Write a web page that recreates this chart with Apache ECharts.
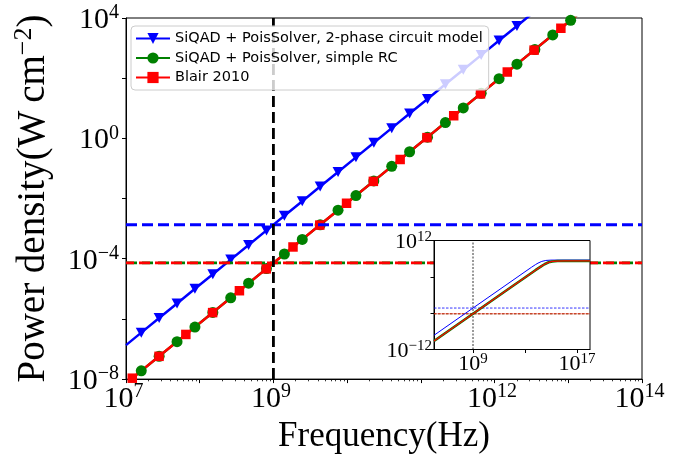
<!DOCTYPE html>
<html><head><meta charset="utf-8">
<script src="https://cdn.jsdelivr.net/npm/echarts@6/dist/echarts.min.js"></script>
<style>html,body{margin:0;padding:0;background:#fff}#c{width:683px;height:459px}</style>
</head><body><div id="c"></div>
<script>
// ---------- data ----------
const seriesNames = ['SiQAD + PoisSolver, 2-phase circuit model', 'SiQAD + PoisSolver, simple RC', 'Blair 2010'];

// marker points, main plot
const blueFreq = [1.611e7, 2.817e7, 4.925e7, 8.612e7, 1.506e8, 2.633e8, 4.604e8, 8.05e8, 1.408e9, 2.461e9, 4.305e9, 7.527e9,
  1.316e10, 2.302e10, 4.025e10, 7.038e10, 1.231e11, 2.152e11, 3.763e11, 6.58e11, 1.151e12, 2.012e12];
const bluePower = [3.50e-7, 1.069e-6, 3.27e-6, 1.0e-5, 3.06e-5, 9.35e-5, 2.858e-4, 8.75e-4, 2.673e-3, 8.18e-3, 2.50e-2, 7.64e-2,
  0.2339, 0.7145, 2.188, 6.68, 20.42, 62.5, 191, 584.8, 1786, 5458];
const blueLineEnds = [[1e7, 1.349e-7], [3.98e12, 2.138e4]];

const greenFreq = [1.611e7, 2.817e7, 4.925e7, 8.612e7, 1.506e8, 2.633e8, 4.604e8, 8.05e8, 1.408e9, 2.461e9, 4.305e9, 7.527e9,
  1.316e10, 2.302e10, 4.025e10, 7.038e10, 1.231e11, 2.152e11, 3.763e11, 6.58e11, 1.151e12, 2.012e12, 3.519e12, 6.153e12, 1.076e13];
const greenPower = [1.879e-8, 5.74e-8, 1.758e-7, 5.37e-7, 1.644e-6, 5.02e-6, 1.535e-5, 4.70e-5, 1.436e-4, 4.395e-4, 1.343e-3, 4.10e-3,
  1.256e-2, 3.837e-2, 0.1175, 0.3589, 1.096, 3.357, 10.26, 31.4, 95.9, 293.1, 897.4, 2742, 8395];
const greenLineEnds = [[7.943e6, 4.571e-9], [1.995e13, 2.884e4]];

const redFreq = [1.216e7, 2.808e7, 6.484e7, 1.497e8, 3.457e8, 7.98e8, 1.843e9, 4.255e9, 9.82e9, 2.268e10, 5.236e10,
  1.209e11, 2.791e11, 6.444e11, 1.488e12, 3.436e12, 7.933e12];
const redPower = [1.072e-8, 5.71e-8, 3.048e-7, 1.622e-6, 8.65e-6, 4.61e-5, 2.46e-4, 1.312e-3, 6.98e-3, 3.724e-2, 0.1986,
  1.059, 5.649, 30.06, 160.3, 855.1, 4560];
const redLineEnds = [[7.943e6, 4.571e-9], [1.995e13, 2.884e4]];

// reference levels
const blueLevel = 1.349e-3;
const redLevel = 7.244e-5;
const refFreq = 1e9;

// inset curves
const insetBlueFreq = [1e6, 1e9, 1e12, 1e13, 3.162e13, 6.31e13, 1e14, 1.95e14, 3.98e14, 1e15, 1e16, 1e18];
const insetBluePower = [1.349e-9, 1.349e-3, 1318, 1.318e5, 1.288e6, 4.786e6, 1.047e7, 2.512e7, 4.074e7, 4.786e7, 5.012e7, 5.012e7];
const insetRedFreq = [1e6, 1e9, 1e12, 1e13, 6.31e13, 2.0e14, 3.16e14, 6.61e14, 1.26e15, 3.16e15, 1e16, 1e18];
const insetRedPower = [7.244e-11, 7.244e-5, 72.44, 7244, 2.884e5, 2.63e6, 5.888e6, 1.585e7, 2.455e7, 3.02e7, 3.162e7, 3.162e7];

// ticks
const mainXLabelExp = [7, 9, 12, 14];
const mainYLabelExp = [-8, -4, 0, 4];
const minorMultipliers = [2, 3, 4, 5, 6, 7, 8, 9];
const minorDecades = [1e7, 1e8, 1e9, 1e10, 1e11, 1e12, 1e13];
const insetXTicks = [1e9, 1e13, 1e17];
const insetXLabels = [1e9, 1e17];
const insetYTicks = [1e-12, 1e-4, 1e4, 1e12];
const insetYLabels = [1e-12, 1e12];

// ---------- chart ----------
const SERIF = "'Liberation Serif', 'DejaVu Serif', serif";
const BLUE = '#0000ff', GREEN = '#008000', RED = '#ff0000';
const minorTicksX = minorDecades.flatMap(d => minorMultipliers.map(m => m * d));

function expOf(v) { return Math.round(Math.log10(v)); }
function supText(e) { return (e < 0 ? '\u2212' : '') + Math.abs(e); }
function fmt(list) {
  return v => { const e = expOf(v); return list.includes(e) ? '{b|10}{s|' + supText(e) + '}' : ''; };
}
function richOf(fb, fs, pad) {
  return {
    b: { fontFamily: SERIF, fontSize: fb, lineHeight: fb, padding: [pad, 0, 0, 0], color: '#000' },
    s: { fontFamily: SERIF, fontSize: fs, lineHeight: fs, verticalAlign: 'top', color: '#000' }
  };
}
const richMain = richOf(30, 20, 4);
const richInset = richOf(22, 15, 3);

function markerData(freq, power, ends) {
  const pts = freq.map((f, i) => [f, power[i]]);
  return [{ value: ends[0], symbol: 'none' }].concat(pts).concat([{ value: ends[1], symbol: 'none' }]);
}
function pairs(fx, py) { return fx.map((f, i) => [f, py[i]]); }

const dashMain = [11, 5];
const option = {
  animation: false,
  backgroundColor: '#fff',
  grid: [
    { left: 123, top: 18, width: 519, height: 370, show: true, borderColor: '#000', borderWidth: 1, backgroundColor: 'transparent', containLabel: false },
    { left: 434, top: 240.5, width: 156, height: 109, show: true, borderColor: '#000', borderWidth: 1, backgroundColor: '#fff', containLabel: false, z: 10 }
  ],
  legend: {
    data: seriesNames, orient: 'vertical', left: 131, top: 26, itemWidth: 34, itemHeight: 14, itemGap: 4.5,
    padding: [5, 6, 5, 4], backgroundColor: 'rgba(255,255,255,0.8)', borderColor: '#cccccc', borderWidth: 1, borderRadius: 4,
    textStyle: { fontFamily: 'DejaVu Sans', fontSize: 14.5, color: '#000' }, z: 5
  },
  xAxis: [
    {
      type: 'log', logBase: 10, gridIndex: 0, min: 1e7, max: 1e14, interval: 1,
      axisLine: { show: true, lineStyle: { color: '#000', width: 1 } },
      axisTick: { show: true, inside: false, length: 4, lineStyle: { color: '#000', width: 1 } },
      splitLine: { show: false }, minorTick: { show: false },
      axisLabel: { margin: 3, padding: [0, 5, 0, 0], formatter: fmt(mainXLabelExp), rich: richMain },
      name: 'Frequency(Hz)', nameLocation: 'middle', nameGap: 34,
      nameTextStyle: { fontFamily: SERIF, fontSize: 35, color: '#000' }
    },
    {
      type: 'log', logBase: 10, gridIndex: 0, min: 1e7, max: 1e14, position: 'bottom',
      axisLine: { show: false }, splitLine: { show: false }, axisLabel: { show: false },
      axisTick: { show: true, inside: false, length: 2.2, customValues: minorTicksX, lineStyle: { color: '#000', width: 0.8 } }
    },
    {
      type: 'log', logBase: 10, gridIndex: 1, min: 1e6, max: 1e18, z: 11,
      axisLine: { show: true, lineStyle: { color: '#000', width: 1 } },
      axisTick: { show: true, inside: false, length: 3.5, customValues: insetXTicks, lineStyle: { color: '#000', width: 1 } },
      splitLine: { show: false },
      axisLabel: { margin: 2, customValues: insetXLabels, formatter: fmt([9, 17]), rich: richInset }
    }
  ],
  yAxis: [
    {
      type: 'log', logBase: 10, gridIndex: 0, min: 1e-8, max: 1e4, interval: 2,
      axisLine: { show: true, lineStyle: { color: '#000', width: 1 } },
      axisTick: { show: true, inside: false, length: 4, lineStyle: { color: '#000', width: 1 } },
      splitLine: { show: false },
      axisLabel: { margin: 7, formatter: fmt(mainYLabelExp), rich: richMain },
      name: '{n|Power density(W\u2009cm}{ns|\u22122}{n|)}', nameLocation: 'middle', nameGap: 76,
      nameTextStyle: {
        fontFamily: SERIF, fontSize: 39, color: '#000',
        rich: {
          n: { fontFamily: SERIF, fontSize: 39, lineHeight: 39, padding: [6, 0, 0, 0], color: '#000' },
          ns: { fontFamily: SERIF, fontSize: 26, lineHeight: 26, verticalAlign: 'top', color: '#000' }
        }
      }
    },
    {
      type: 'log', logBase: 10, gridIndex: 1, min: 1e-12, max: 1e12, z: 11,
      axisLine: { show: true, lineStyle: { color: '#000', width: 1 } },
      axisTick: { show: true, inside: false, length: 3.5, customValues: insetYTicks, lineStyle: { color: '#000', width: 1 } },
      splitLine: { show: false },
      axisLabel: { margin: 2, customValues: insetYLabels, formatter: fmt([-12, 12]), rich: richInset }
    }
  ],
  series: [
    {
      name: seriesNames[0], type: 'line', xAxisIndex: 0, yAxisIndex: 0, z: 2,
      data: markerData(blueFreq, bluePower, blueLineEnds),
      symbol: 'triangle', symbolRotate: 180, symbolSize: [11, 10],
      lineStyle: { color: BLUE, width: 2.5 }, itemStyle: { color: BLUE }
    },
    {
      name: seriesNames[1], type: 'line', xAxisIndex: 0, yAxisIndex: 0, z: 2,
      data: markerData(greenFreq, greenPower, greenLineEnds),
      symbol: 'circle', symbolSize: 11,
      lineStyle: { color: GREEN, width: 2.5 }, itemStyle: { color: GREEN }
    },
    {
      name: seriesNames[2], type: 'line', xAxisIndex: 0, yAxisIndex: 0, z: 2,
      data: markerData(redFreq, redPower, redLineEnds),
      symbol: 'rect', symbolSize: 9.5,
      lineStyle: { color: RED, width: 2.5 }, itemStyle: { color: RED }
    },
    { type: 'line', xAxisIndex: 0, yAxisIndex: 0, z: 3, symbol: 'none', data: [[1e7, blueLevel], [1e14, blueLevel]],
      lineStyle: { color: BLUE, width: 2.8, type: dashMain } },
    { type: 'line', xAxisIndex: 0, yAxisIndex: 0, z: 3, symbol: 'none', data: [[1e7, redLevel], [1e14, redLevel]],
      lineStyle: { color: GREEN, width: 2.8, type: dashMain, dashOffset: 0 } },
    { type: 'line', xAxisIndex: 0, yAxisIndex: 0, z: 3, symbol: 'none', data: [[1e7, redLevel], [1e14, redLevel]],
      lineStyle: { color: RED, width: 2.8, type: dashMain, dashOffset: 3 } },
    { type: 'line', xAxisIndex: 0, yAxisIndex: 0, z: 3, symbol: 'none', data: [[refFreq, 1e-8], [refFreq, 1e4]],
      lineStyle: { color: '#000', width: 2.8, type: dashMain } },
    // inset
    { type: 'line', xAxisIndex: 2, yAxisIndex: 1, z: 12, symbol: 'none', data: [[1e6, blueLevel], [1e18, blueLevel]],
      lineStyle: { color: BLUE, width: 0.8, type: [2.5, 1.5] } },
    { type: 'line', xAxisIndex: 2, yAxisIndex: 1, z: 12, symbol: 'none', data: [[1e6, redLevel], [1e18, redLevel]],
      lineStyle: { color: GREEN, width: 0.8, type: [2.5, 1.5] } },
    { type: 'line', xAxisIndex: 2, yAxisIndex: 1, z: 12, symbol: 'none', data: [[1e6, redLevel], [1e18, redLevel]],
      lineStyle: { color: RED, width: 0.9, type: [3.2, 0.8], dashOffset: 0.5 } },
    { type: 'line', xAxisIndex: 2, yAxisIndex: 1, z: 12, symbol: 'none', data: [[refFreq, 1e-12], [refFreq, 1e12]],
      lineStyle: { color: '#000', width: 0.8, type: [2, 1.5] } },
    { type: 'line', xAxisIndex: 2, yAxisIndex: 1, z: 13, symbol: 'none', data: pairs(insetBlueFreq, insetBluePower),
      lineStyle: { color: BLUE, width: 1 } },
    { type: 'line', xAxisIndex: 2, yAxisIndex: 1, z: 13, symbol: 'none', data: pairs(insetRedFreq, insetRedPower),
      lineStyle: { color: GREEN, width: 2.6 } },
    { type: 'line', xAxisIndex: 2, yAxisIndex: 1, z: 13, symbol: 'none', data: pairs(insetRedFreq, insetRedPower),
      lineStyle: { color: RED, width: 1.3 } }
  ]
};
const chart = echarts.init(document.getElementById('c'), null, { renderer: 'canvas' });
chart.setOption(option);
</script>
</body></html>
